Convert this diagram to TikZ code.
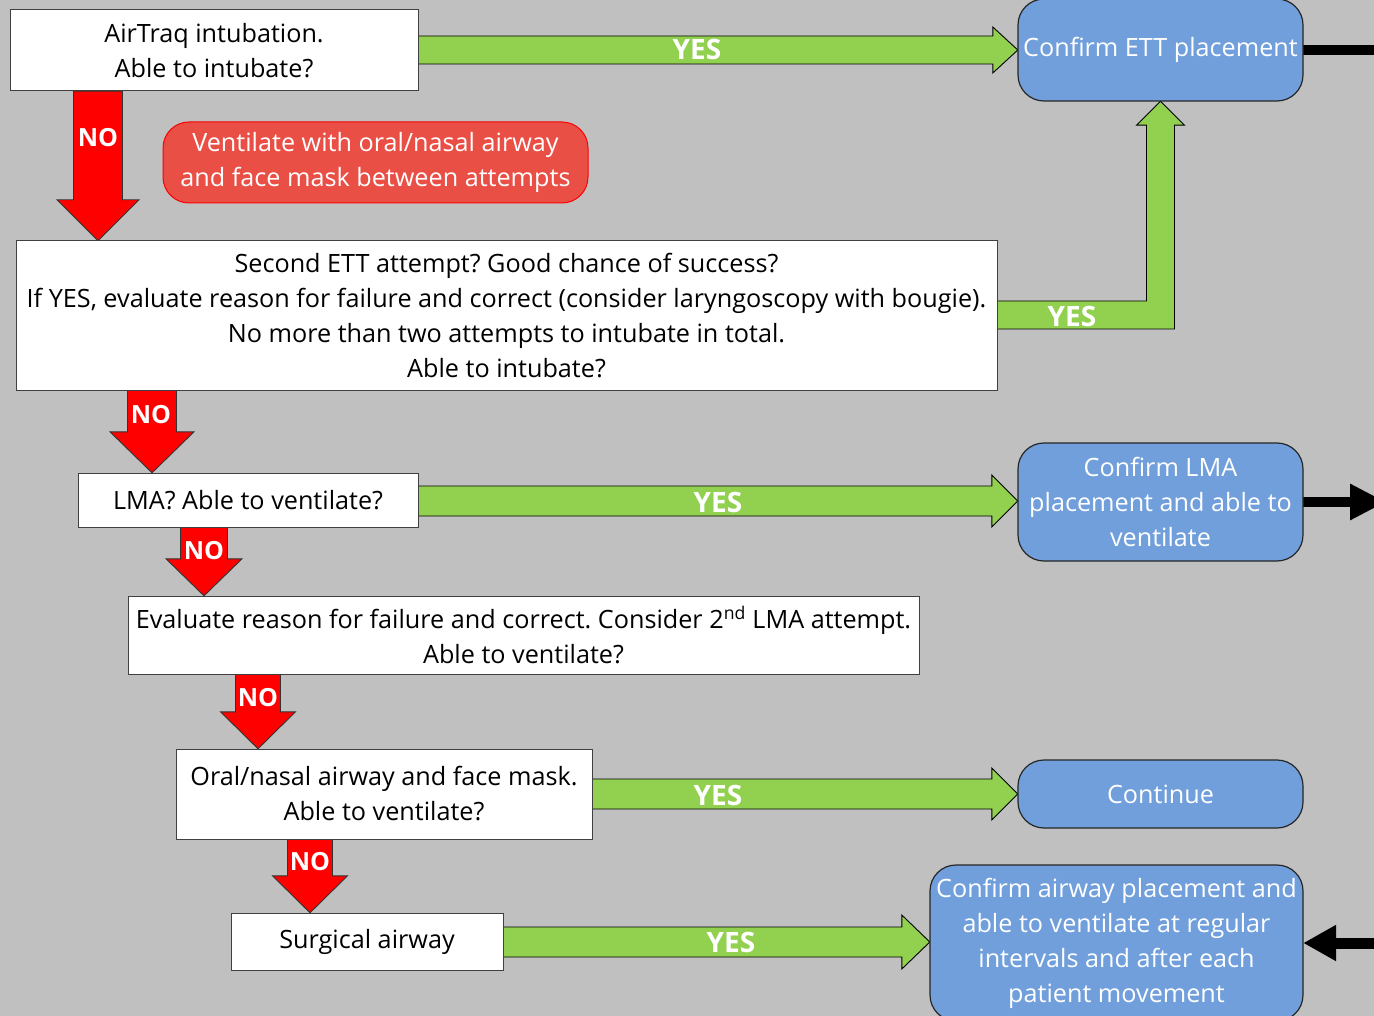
\documentclass[tikz,border=0pt]{standalone}
\usepackage{fontspec}
\setmainfont{Open Sans}
\frenchspacing
\usetikzlibrary{calc,arrows.meta}
\definecolor{bgc}{RGB}{192,192,192}
\definecolor{ygreen}{RGB}{146,208,80}
\definecolor{nred}{RGB}{255,0,0}
\definecolor{ablue}{RGB}{112,159,220}
\definecolor{rbox}{RGB}{234,79,70}
\tikzset{
  qbox/.style={draw=black!75, fill=white, line width=1pt, align=center, inner sep=0pt,
    font=\fontsize{25.2}{35}\selectfont, text=black},
  endbox/.style={draw=black!85, fill=ablue, rounded corners=26pt, line width=1.2pt, align=center,
    inner sep=0pt, text=white, font=\fontsize{25.2}{35}\selectfont},
  warnbox/.style={draw=nred, fill=rbox, rounded corners=26pt, line width=1pt, align=center,
    inner sep=0pt, text=white, font=\fontsize{25.2}{35}\selectfont},
  yesarr/.style={fill=ygreen, draw=black, line width=0.9pt, line join=miter},
  noarr/.style={fill=nred, draw=black!80, line width=0.9pt, line join=miter},
  lab/.style={text=white, font=\fontsize{28}{30}\selectfont\bfseries, inner sep=0pt},
  nolab/.style={lab, font=\fontsize{25}{30}\selectfont\bfseries},
  blk/.style={draw=black, line width=10pt},
}
% #1 from, #2 to, #3 y centre (px), #4 half shaft, #5 half head, #6 head length
\newcommand\yesarrow[6]{%
  \path[yesarr] let \p1=(#1.east), \p2=(#2.west) in
    (\x1,{-(#3-#4)*1pt}) -- ({\x2-#6*1pt},{-(#3-#4)*1pt}) -- ({\x2-#6*1pt},{-(#3-#5)*1pt})
    -- (\x2,{-#3*1pt}) -- ({\x2-#6*1pt},{-(#3+#5)*1pt}) -- ({\x2-#6*1pt},{-(#3+#4)*1pt})
    -- (\x1,{-(#3+#4)*1pt}) -- cycle;}
% #1 from, #2 to, #3 x centre, #4 half shaft, #5 half head, #6 head length
\newcommand\noarrow[6]{%
  \path[noarr] let \p1=(#1.south), \p2=(#2.north) in
    ({(#3-#4)*1pt},\y1) -- ({(#3-#4)*1pt},{\y2+#6*1pt}) -- ({(#3-#5)*1pt},{\y2+#6*1pt})
    -- ({#3*1pt},\y2) -- ({(#3+#5)*1pt},{\y2+#6*1pt}) -- ({(#3+#4)*1pt},{\y2+#6*1pt})
    -- ({(#3+#4)*1pt},\y1) -- cycle;}
\begin{document}
\begin{tikzpicture}[x=1pt,y=-1pt]
\useasboundingbox (0,0) rectangle (1374,1016);
\clip (0,0) rectangle (1374,1016);
\fill[bgc] (0,0) rectangle (1374,1016);

% box frames (named, for anchors)
\path
  (214,50.5)     node[minimum width=408, minimum height=81] (b1) {}
  (506.5,315.5)  node[minimum width=981, minimum height=149] (b2) {}
  (248,500)      node[minimum width=340, minimum height=54] (b3) {}
  (523.5,635)    node[minimum width=791, minimum height=78] (b4) {}
  (384,794)      node[minimum width=416, minimum height=90] (b5) {}
  (367,941.5)    node[minimum width=272, minimum height=57] (b6) {}
  (1160.5,50)    node[minimum width=285, minimum height=102] (c1) {}
  (1160.5,502)   node[minimum width=285, minimum height=118] (c2) {}
  (1160.5,794)   node[minimum width=285, minimum height=68] (c3) {}
  (1116.5,943)   node[minimum width=373, minimum height=156] (c4) {};

% connectors
\yesarrow{b1}{c1}{50}{14}{23}{25}
\yesarrow{b3}{c2}{501}{15}{26}{26}
\yesarrow{b5}{c3}{794}{15}{26}{26}
\yesarrow{b6}{c4}{942}{15}{27}{28}
\path[yesarr] let \p1=(b2.east), \p2=(c1.south) in
  (\x1,-301pt) -- ({\x2-14pt},-301pt) -- ({\x2-14pt},{\y2-24pt}) -- ({\x2-24pt},{\y2-24pt})
  -- (\x2,\y2) -- ({\x2+24pt},{\y2-24pt}) -- ({\x2+14pt},{\y2-24pt}) -- ({\x2+14pt},-329pt)
  -- (\x1,-329pt) -- cycle;
\noarrow{b1}{b2}{98}{24.5}{41}{41}
\noarrow{b2}{b3}{152}{24.5}{42}{41}
\noarrow{b3}{b4}{204}{23.5}{38}{37}
\noarrow{b4}{b5}{258}{22.5}{37.5}{37}
\noarrow{b5}{b6}{310}{22.5}{37.5}{37}

\coordinate (k1) at (1374,50);
\coordinate (k2) at (1386,502);
\coordinate (k3) at (1380,943);
\draw[blk] (c1.east) -- (k1);
\draw[blk, -{Triangle[length=36pt,width=34pt]}] (c2.east) -- (k2);
\draw[draw=black, line width=11pt, -{Triangle[length=33pt,width=34pt]}] (k3) -- (c4.east);

% boxes drawn on top
\node[qbox, minimum width=408, minimum height=81] at (b1) {AirTraq intubation.\\Able to intubate?};
\node[qbox, minimum width=981, minimum height=149] at (b2) {Second ETT attempt? Good chance of success?\\If YES, evaluate reason for failure and correct (consider laryngoscopy with bougie).\\No more than two attempts to intubate in total.\\Able to intubate?};
\node[qbox, minimum width=340, minimum height=54] at (b3) {LMA? Able to ventilate?};
\node[qbox, minimum width=791, minimum height=78] at (b4) {Evaluate reason for failure and correct. Consider 2\textsuperscript{nd} LMA attempt.\\Able to ventilate?};
\node[qbox, minimum width=416, minimum height=90] at (b5) {Oral/nasal airway and face mask.\\Able to ventilate?};
\node[qbox, minimum width=272, minimum height=57] at (b6) {Surgical airway};
\node[endbox, minimum width=285, minimum height=102] at (c1) {Confirm ETT placement};
\node[endbox, minimum width=285, minimum height=118] at (c2) {Confirm LMA\\placement and able to\\ventilate};
\node[endbox, minimum width=285, minimum height=68] at (c3) {Continue};
\node[endbox, minimum width=373, minimum height=156] at (c4) {Confirm airway placement and\\able to ventilate at regular\\intervals and after each\\patient movement};
\node[warnbox, minimum width=425, minimum height=81] (r1) at (375.5,162.5) {Ventilate with oral/nasal airway\\and face mask between attempts};

% labels
\node[lab] (y1) at (697,50) {YES};
\node[lab] (y2) at (1072,316) {YES};
\node[lab] (y3) at (718,502) {YES};
\node[lab] (y4) at (718,795) {YES};
\node[lab] (y5) at (731,942) {YES};
\node[nolab] (n1) at (98,138) {NO};
\node[nolab] (n2) at (151,415) {NO};
\node[nolab] (n3) at (204,551) {NO};
\node[nolab] (n4) at (258,698) {NO};
\node[nolab] (n5) at (310,862) {NO};
\end{tikzpicture}
\end{document}
